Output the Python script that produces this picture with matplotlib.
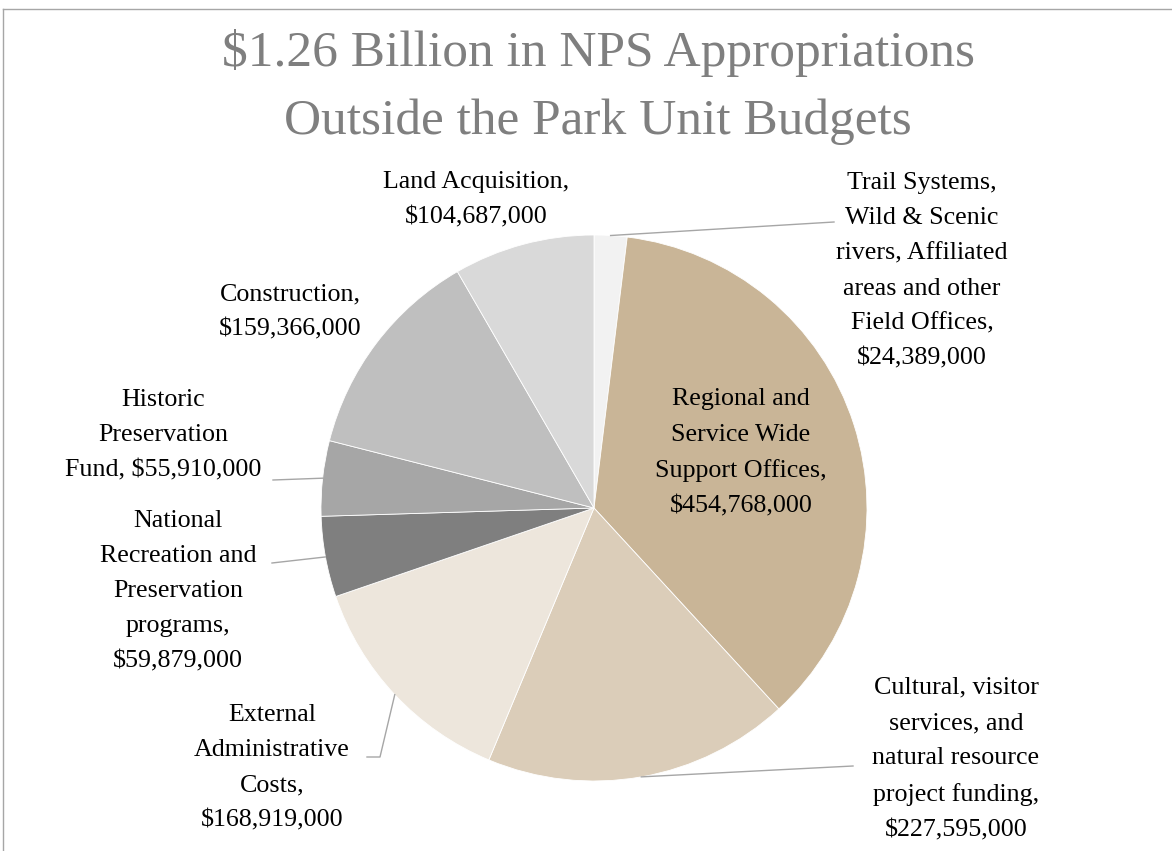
import numpy as np
import matplotlib as mpl
mpl.use('Agg')
import matplotlib.pyplot as plt
from matplotlib.lines import Line2D

plt.rcParams['text.parse_math'] = False
plt.rcParams['font.family'] = ['Liberation Serif', 'DejaVu Serif']

# data (in $), clockwise from 12 o'clock
labels = [
    'Trail Systems,\nWild & Scenic\nrivers, Affiliated\nareas and other\nField Offices,\n$24,389,000',
    'Regional and\nService Wide\nSupport Offices,\n$454,768,000',
    'Cultural, visitor\nservices, and\nnatural resource\nproject funding,\n$227,595,000',
    'External\nAdministrative\nCosts,\n$168,919,000',
    'National\nRecreation and\nPreservation\nprograms,\n$59,879,000',
    'Historic\nPreservation\nFund, $55,910,000',
    'Construction,\n$159,366,000',
    'Land Acquisition,\n$104,687,000',
]
values = [24389000, 454768000, 227595000, 168919000,
          59879000, 55910000, 159366000, 104687000]
colors = ['#F2F2F2', '#C9B597', '#DBCDB9', '#EDE6DC',
          '#7F7F7F', '#A6A6A6', '#BFBFBF', '#D9D9D9']

W, H = 1172, 851
fig = plt.figure(figsize=(W / 100, H / 100), dpi=100)
ax = fig.add_axes([0, 0, 1, 1])

cx, cy, r = 594, H - 508, 273
wedges, _ = ax.pie(values, colors=colors, startangle=90, counterclock=False,
                   center=(cx, cy), radius=r, frame=True,
                   wedgeprops=dict(edgecolor='white', linewidth=0.6))
ax.set_xlim(0, W)
ax.set_ylim(0, H)
ax.axis('off')

# label centres in pixel space (x, y from top) and leader-line targets
label_pos = [(922, 271), (741, 453), (956, 759), (272, 768),
             (178, 591), (163, 435), (290, 312), (476, 200)]
leaders = {0: [(834, 222)],
           2: [(853, 766)],
           3: [(380, 757), (367, 757)],
           4: [(272, 563)],
           5: [(273, 480)]}

for i, (lab, (px, py)) in enumerate(zip(labels, label_pos)):
    ax.text(px, H - py, lab, ha='center', va='center', fontsize=18.7,
            color='#000000', linespacing=1.77)

for i, pts in leaders.items():
    w = wedges[i]
    mid = np.deg2rad((w.theta1 + w.theta2) / 2)
    xs = [cx + r * np.cos(mid)] + [p[0] for p in pts]
    ys = [cy + r * np.sin(mid)] + [H - p[1] for p in pts]
    ax.plot(xs, ys, color='#A6A6A6', lw=1)

ax.text(598, H - 87, '$1.26 Billion in NPS Appropriations\nOutside the Park Unit Budgets',
        ha='center', va='center', fontsize=37, color='#7F7F7F', linespacing=1.6)

# chart border (cropped)
fig.add_artist(Line2D([3 / W, 1], [1 - 9 / H, 1 - 9 / H], color='#A6A6A6', lw=1))
fig.add_artist(Line2D([3 / W, 3 / W], [0, 1 - 9 / H], color='#A6A6A6', lw=1))

fig.savefig('out.png', dpi=100)
